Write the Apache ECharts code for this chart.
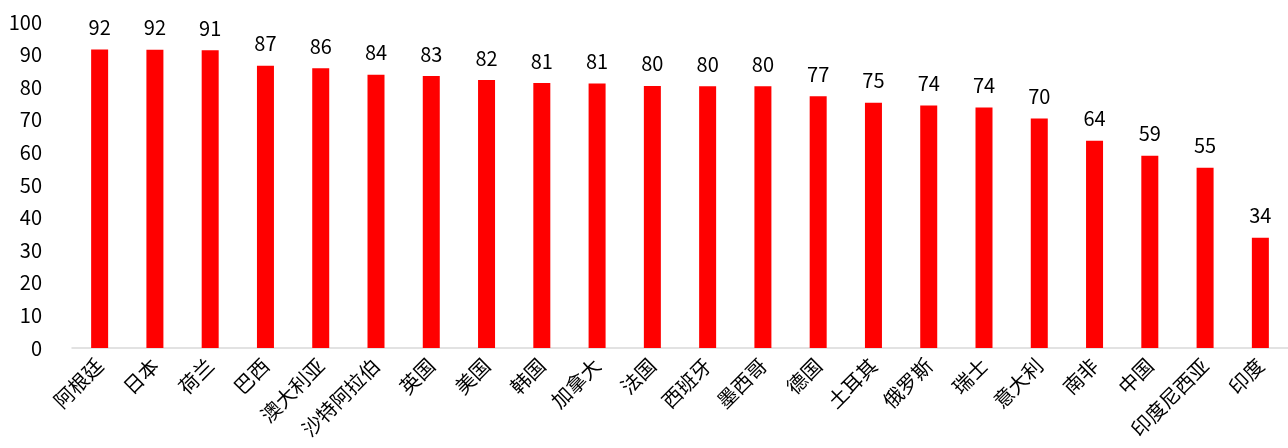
<!DOCTYPE html>
<html>
<head>
<meta charset="utf-8">
<script src="https://cdn.jsdelivr.net/npm/echarts@6/dist/echarts.min.js"></script>
<style>
  html, body { margin: 0; padding: 0; background: #fff; }
  #chart { width: 1288px; height: 448px; }
</style>
</head>
<body>
<div id="chart"></div>
<script>
const countries = ["阿根廷", "日本", "荷兰", "巴西", "澳大利亚", "沙特阿拉伯", "英国", "美国", "韩国", "加拿大", "法国",
  "西班牙", "墨西哥", "德国", "土耳其", "俄罗斯", "瑞士", "意大利", "南非", "中国", "印度尼西亚", "印度"];
const scores = [91.6, 91.5, 91.3, 86.6, 85.8, 83.8, 83.4, 82.2, 81.3, 81.1, 80.4,
  80.3, 80.3, 77.2, 75.2, 74.4, 73.8, 70.4, 63.6, 59.0, 55.3, 33.8];

const chart = echarts.init(document.getElementById("chart"), null, { renderer: "canvas" });

chart.setOption({
  backgroundColor: "#fff",
  animation: false,
  grid: { left: 72, width: 1226, top: 22, bottom: 100 },
  xAxis: {
    type: "category",
    data: countries,
    axisLine: { lineStyle: { color: "#d9d9d9", width: 1.5 } },
    axisTick: { show: false },
    axisLabel: {
      rotate: 45,
      interval: 0,
      margin: 14,
      color: "#000",
      fontSize: 20,
      fontFamily: "Noto Sans CJK SC",
    },
  },
  yAxis: {
    type: "value",
    min: 0,
    max: 100,
    interval: 10,
    axisLine: { show: false },
    axisTick: { show: false },
    splitLine: { show: false },
    axisLabel: {
      color: "#000",
      fontSize: 20,
      margin: 30,
      fontFamily: "Noto Sans CJK SC",
    },
  },
  series: [
    {
      type: "bar",
      data: scores,
      barWidth: 17,
      itemStyle: { color: "#ff0000" },
      label: {
        show: true,
        position: "top",
        distance: 12,
        color: "#000",
        fontSize: 20,
        fontFamily: "Noto Sans CJK SC",
        formatter: (p) => Math.round(p.value),
      },
    },
  ],
});
</script>
</body>
</html>
